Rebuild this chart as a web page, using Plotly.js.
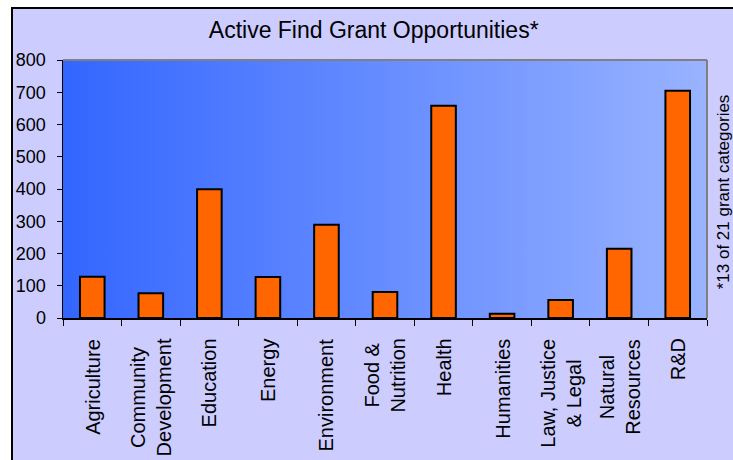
<!DOCTYPE html>
<html><head><meta charset="utf-8">
<script src="https://cdn.plot.ly/plotly-3.0.1.min.js"></script>
<style>
html,body{margin:0;padding:0;background:#fff;overflow:hidden}
#chart{position:absolute;left:11px;top:7px;width:720px;height:451px;border-left:2px solid #000;border-top:2px solid #000}
</style>
</head><body><div id="chart"></div>
<script>
const categories = ["Agriculture","Community<br>Development","Education","Energy","Environment","Food &<br>Nutrition","Health","Humanities","Law, Justice<br>& Legal","Natural<br>Resources","R&D"];
const opportunities = [128, 77, 399, 127, 289, 81, 658, 13, 56, 215, 705];
const yTickValues = [0, 100, 200, 300, 400, 500, 600, 700, 800];
const titleText = "Active Find Grant Opportunities*";
const noteText = "*13 of 21 grant categories";

const gradSvg = '<svg xmlns="http://www.w3.org/2000/svg" width="200" height="100" preserveAspectRatio="none">' +
  '<defs><linearGradient id="g" x1="0" y1="0" x2="1" y2="0">' +
  '<stop offset="0" stop-color="#3366FF"/><stop offset="1" stop-color="#99B3FF"/>' +
  '</linearGradient></defs><rect width="200" height="100" fill="url(#g)"/></svg>';

const trace = {
  type: "bar",
  x: categories,
  y: opportunities,
  marker: {color: "#FF6600", line: {color: "#000000", width: 2}},
  hoverinfo: "x+y"
};

const labelAnnotations = categories.map(c => ({
  x: c, xref: "x", y: -0.072, yref: "paper",
  text: c, showarrow: false, textangle: -90,
  xanchor: "center", yanchor: "top", align: "center",
  font: {family: "Arial, Liberation Sans, sans-serif", size: 20, color: "#000"}
}));

const layout = {
  width: 720, height: 451,
  paper_bgcolor: "#CCCCFF",
  plot_bgcolor: "rgba(0,0,0,0)",
  margin: {l: 50, r: 26, t: 51, b: 142},
  showlegend: false,
  bargap: 0.58,
  font: {family: "Arial, Liberation Sans, sans-serif", color: "#000"},
  title: {text: titleText, x: 0.501, xref: "container", y: 0.953, yref: "container", yanchor: "middle",
          font: {size: 23, color: "#000"}},
  xaxis: {
    type: "category", showticklabels: false, tickson: "boundaries",
    ticks: "outside", ticklen: 6, tickcolor: "#000", tickwidth: 1,
    showline: true, linecolor: "#000", linewidth: 1.5, showgrid: false, zeroline: false,
    fixedrange: true
  },
  yaxis: {
    range: [0, 800], tickvals: yTickValues, ticktext: yTickValues.map(String),
    ticks: "outside", ticklen: 5, tickcolor: "#000", tickwidth: 1,
    ticklabelstandoff: 7,
    showline: true, linecolor: "#000", linewidth: 1.5, showgrid: false, zeroline: false,
    tickfont: {size: 18, color: "#000"}, fixedrange: true
  },
  images: [{
    source: "data:image/svg+xml;base64," + btoa(gradSvg),
    xref: "paper", yref: "paper", x: 0, y: 1, sizex: 1, sizey: 1,
    xanchor: "left", yanchor: "top", sizing: "stretch", layer: "below"
  }],
  shapes: [
    {type: "line", xref: "paper", yref: "paper", x0: 0, x1: 1, y0: 1, y1: 1, line: {color: "#808080", width: 2}},
    {type: "line", xref: "paper", yref: "paper", x0: 1, x1: 1, y0: 0, y1: 1, line: {color: "#808080", width: 2}}
  ],
  annotations: labelAnnotations.concat([{
    xref: "paper", yref: "paper", x: 1.026, y: 0.49, text: noteText, showarrow: false,
    textangle: -90, xanchor: "center", yanchor: "middle",
    font: {size: 17, color: "#000"}
  }])
};

Plotly.newPlot("chart", [trace], layout, {displayModeBar: false, staticPlot: true});
</script></body></html>
